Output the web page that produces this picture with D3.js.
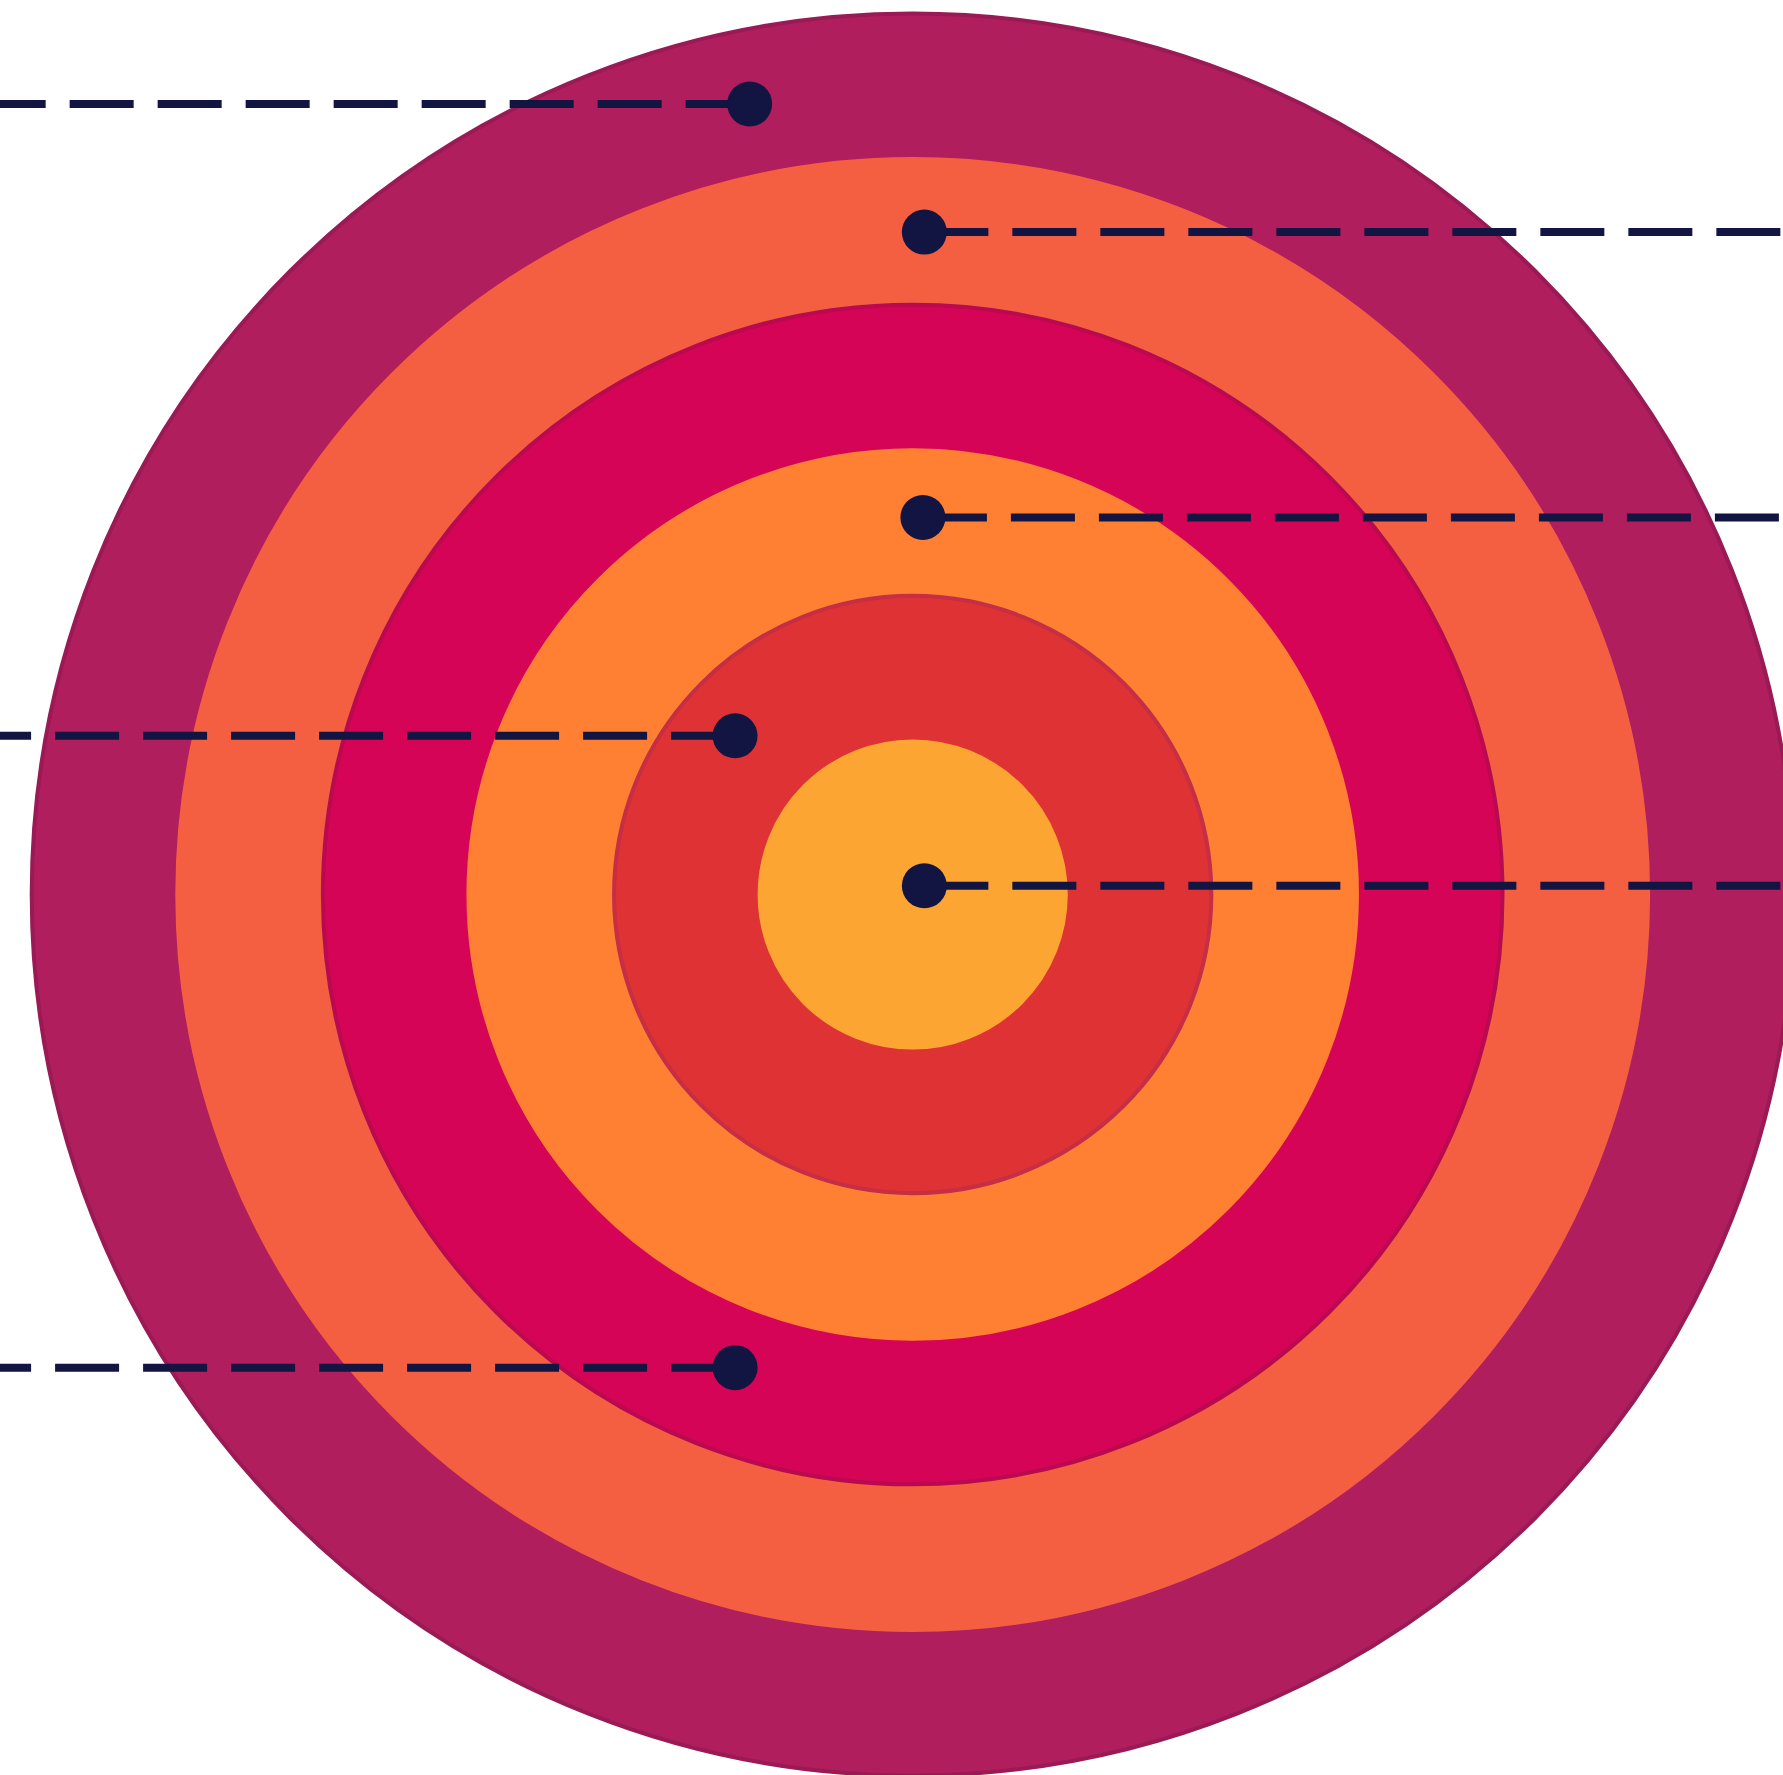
<!DOCTYPE html>
<html>
<head>
<meta charset="utf-8">
<script src="https://cdn.jsdelivr.net/npm/d3@7"></script>
<style>
  html, body { margin: 0; padding: 0; background: #ffffff; overflow: hidden; }
  svg { display: block; }
</style>
</head>
<body>
<div id="chart"></div>
<script>
// ---- data ----
// ring levels (outermost first)
const ringLevels = [6, 5, 4, 3, 2, 1];
const ringFills = ["#B01E5E", "#F45F42", "#D50457", "#FF8033", "#DF3235", "#FDA533"];
const ringStrokes = ["#9A1A55", "#F45F42", "#B90A50", "#FF8033", "#C52E45", "#FDA533"];

// marker positions in ring units (relative to the centre)
const markerX = [-1.12, 0.08, 0.07, -1.22, 0.08, -1.22];
const markerY = [-5.43, -4.55, -2.59, -1.09, -0.06, 3.25];
const markerSide = ["left", "right", "right", "left", "right", "left"];

// ---- layout ----
const width = 1783, height = 1775;
const cx = 912.7, cy = 894.5;

const svg = d3.select("#chart").append("svg")
  .attr("width", width).attr("height", height);

const rScale = d3.scaleLinear().domain([0, 6]).range([7.5, 881]);
const unit = rScale(1) - rScale(0);
const xScale = d3.scaleLinear().domain([0, 1]).range([cx, cx + unit]);
const yScale = d3.scaleLinear().domain([0, 1]).range([cy, cy + unit]);

const rings = ringLevels.map((v, i) => ({ v, fill: ringFills[i], stroke: ringStrokes[i] }));

svg.append("g").selectAll("circle")
  .data(rings)
  .join("circle")
  .attr("cx", cx)
  .attr("cy", cy)
  .attr("r", d => rScale(d.v))
  .attr("fill", d => d.fill)
  .attr("stroke", d => d.stroke)
  .attr("stroke-width", 4);

const markers = markerX.map((x, i) => ({ x, y: markerY[i], side: markerSide[i] }));

const ink = "#121441";

svg.append("g").selectAll("line")
  .data(markers)
  .join("line")
  .attr("x1", d => xScale(d.x))
  .attr("y1", d => yScale(d.y))
  .attr("x2", d => d.side === "left" ? 0 : width)
  .attr("y2", d => yScale(d.y))
  .attr("stroke", ink)
  .attr("stroke-width", 8)
  .attr("stroke-dasharray", "64,24");

svg.append("g").selectAll("circle")
  .data(markers)
  .join("circle")
  .attr("cx", d => xScale(d.x))
  .attr("cy", d => yScale(d.y))
  .attr("r", 22.5)
  .attr("fill", ink);
</script>
</body>
</html>
